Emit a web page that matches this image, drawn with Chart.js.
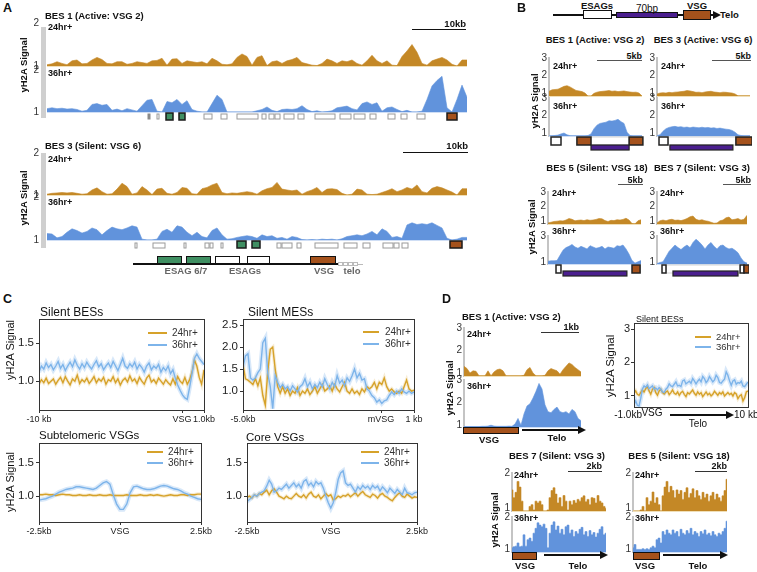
<!DOCTYPE html>
<html>
<head>
<meta charset="utf-8">
<script src="https://cdn.jsdelivr.net/npm/chart.js@4.4.1/dist/chart.umd.min.js"></script>
<style>
body { margin: 0; width: 757px; height: 572px; position: relative; background: #fff; overflow: hidden;
       font-family: "Liberation Sans", Arial, sans-serif; }
.tx { position: absolute; white-space: nowrap; line-height: 1; color: #111; }
.bx { position: absolute; box-sizing: border-box; }
.yt { position: absolute; white-space: nowrap; line-height: 1; color: #222; font-size: 11px; z-index: 5; }
</style>
</head>
<body>
<script>
// ---- Panel A: BES tracks, one value per 5px bin ----
const a1_24 = [1.03,1.05,1.1,1.06,1.03,1.12,1.14,1.05,1.06,1.14, 1.2,1.15,1.06,1.05,1.1,1.1,1.04,1.06,1.1,1.08,
  1.06,1.12,1.13,1.18,1.02,1.16,1.17,1.06,1.12,1.1, 1.08,1.1,1.05,1.18,1.12,1.04,1.03,1.05,1.2,1.28,
  1.22,1.02,1.2,1.24,1.01,1.1,1.12,1.06,1.12,1.15, 1.2,1.08,1.05,1.02,1.01,1.06,1.16,1.12,1.06,1.12,
  1.1,1.14,1.06,1.02,1.12,1.25,1.12,1.06,1.12,1.02, 1.01,1.22,1.35,1.5,1.32,1.06,1.02,1.12,1.16,1.2,
  1.14,1.04,1.0,1.14,1.14];
const a1_36 = [1.08,1.1,1.08,1.09,1.07,1.08,1.06,1.02,1.04,1.18, 1.2,1.16,1.18,1.04,1.07,1.03,1.08,1.05,1.02,1.15,
  1.28,1.3,1.02,1.0,1.25,1.22,1.3,1.18,1.27,1.06, 1.02,1.0,1.0,1.2,1.4,1.3,1.0,1.0,1.0,1.0,
  1.0,1.0,1.03,1.06,1.12,1.04,1.01,1.06,1.07,1.06, 1.08,1.15,1.06,1.01,1.03,1.0,1.01,1.03,1.1,1.12,
  1.14,1.08,1.05,1.2,1.24,1.18,1.22,1.02,1.1,1.12, 1.06,1.01,1.04,1.0,1.0,1.02,1.3,1.62,1.75,1.85,
  1.1,1.0,1.3,1.64,1.35];
const a1_genes = [[20.2,20.6,'k'],[22,22.4,'w'],[23.8,25.2,'g'],[26.4,27.6,'g'],[31.4,33,'w'],[34.8,36,'w'],
  [38,42.2,'w'],[43,43.8,'w'],[44.4,45.4,'w'],[45.6,46.6,'w'],[47.4,49.4,'w'],[50.2,51.4,'w'],[53.6,57.6,'w'],
  [58.6,60.8,'w'],[61.4,63.6,'w'],[64.6,65.8,'w'],[68.2,69.6,'w'],[70.8,72,'w'],[74,75.6,'w'],[80,82,'b']];

const a3_24 = [1.02,1.04,1.05,1.06,1.05,1.06,1.04,1.02,1.03,1.12, 1.17,1.08,1.02,1.03,1.14,1.28,1.2,1.02,1.05,1.2,
  1.12,1.01,1.14,1.16,1.04,1.02,1.06,1.18,1.16,1.03, 1.02,1.15,1.18,1.24,1.28,1.06,1.03,1.05,1.04,1.06,
  1.08,1.06,1.02,1.1,1.15,1.18,1.3,1.14,1.12,1.1, 1.12,1.02,1.08,1.12,1.18,1.06,1.14,1.15,1.13,1.04,
  1.0,1.02,1.14,1.12,1.02,1.01,1.02,1.06,1.1,1.15, 1.08,1.12,1.18,1.14,1.24,1.08,1.05,1.16,1.2,1.17,
  1.12,1.07,1.0,1.15,1.15];
const a3_36 = [1.15,1.14,1.05,1.08,1.18,1.26,1.22,1.16,1.2,1.28, 1.24,1.12,1.22,1.3,1.26,1.24,1.28,1.33,1.3,1.02,
  1.0,1.0,1.02,1.2,1.25,1.18,1.33,1.3,1.18,1.1, 1.18,1.08,1.05,1.22,1.28,1.12,1.02,1.03,1.06,1.08,
  1.1,1.08,1.04,1.12,1.08,1.1,1.04,1.06,1.02,1.08, 1.06,1.01,1.0,1.01,1.0,1.02,1.01,1.02,1.0,1.03,
  1.08,1.1,1.12,1.1,1.14,1.2,1.12,1.26,1.2,1.06, 1.08,1.04,1.35,1.4,1.36,1.38,1.36,1.4,1.34,1.28,
  1.04,1.0,1.02,1.06,1.06];
const a3_genes = [[17.6,18,'w'],[21.2,23.6,'w'],[27.4,27.8,'w'],[31.6,32.4,'w'],[32.6,33.2,'w'],[34.8,35.2,'w'],
  [38,39.8,'g'],[41,42.6,'g'],[46,46.8,'w'],[47,49,'w'],[50,50.8,'w'],[53.6,58.2,'w'],[59.4,62,'w'],
  [63.2,64.6,'w'],[67.2,69.2,'w'],[69.4,70.4,'w'],[71,72.2,'w'],[80.6,83,'b']];

// ---- Panel B ----
const b1_24 = [1.1,1.18,1.2,1.22,1.3,1.38,1.42,1.35,1.25,1.15, 1.12,1.08,1.0,0.83,0.83,0.98,1.05,1.08,1.1,1.12,
  1.14,1.1,1.12,1.08,1.1,1.12,1.08,1.06,1.04,1.05, 1.0,0.83];
const b1_36 = [0.84,0.85,0.86,0.88,0.95,1.0,0.9,0.85,0.84,0.84, 0.84,0.84,0.84,0.86,0.95,1.25,1.45,1.55,1.58,1.62,
  1.7,1.68,1.72,1.78,1.65,1.55,1.05,0.86,0.84,0.84, 0.84,0.84];
const b1_genes = [[14,26.7,'o'],[0.67,4,'w'],[9.3,14,'b'],[26.7,31.3,'b'],[14,26.7,'p']];
const b3_24 = [0.95,1.0,1.02,1.0,1.04,1.02,1.05,1.06,1.08,1.1, 1.14,1.12,1.08,1.04,1.05,1.02,1.06,1.08,1.1,1.06,
  1.04,1.02,1.05,1.04,1.02,1.0,0.95,0.84,0.84,0.84, 0.84,0.84];
const b3_36 = [0.85,0.9,1.1,1.25,1.32,1.36,1.38,1.34,1.36,1.32, 1.34,1.3,1.34,1.32,1.3,1.33,1.3,1.32,1.28,1.3,
  1.26,1.28,1.25,1.22,1.2,1.15,1.05,0.9,0.86,0.85, 0.85,0.85];
const b3_genes = [[3.67,26.3,'o'],[0.67,3.67,'w'],[26.3,31.7,'b'],[4.3,25.3,'p']];
const b5_24 = [0.9,0.95,1.0,1.02,1.05,1.04,1.1,1.2,1.15,1.05, 1.08,1.1,1.06,1.12,1.08,1.1,1.14,1.2,1.18,1.06,
  1.0,1.08,1.06,1.12,1.1,1.14,1.22,1.1,0.86,0.84, 1.05,1.12];
const b5_36 = [1.05,1.08,1.08,1.1,1.5,1.9,2.1,2.2,2.35,2.15, 2.05,2.2,2.1,2.0,2.25,2.15,2.05,2.1,2.2,2.0,
  2.15,2.1,2.05,2.25,2.2,2.3,2.0,1.6,1.1,0.9, 1.0,1.1];
const b5_genes = [[2.67,4.33,'w'],[28,30.7,'b'],[5,26.3,'p']];
const b7_24 = [0.9,1.05,1.1,1.05,1.12,1.15,1.08,1.1,1.06,1.12, 1.2,1.32,1.37,1.15,1.08,1.12,1.05,1.02,0.95,0.88,
  0.9,1.05,1.1,1.25,1.3,1.12,1.15,1.2,1.1,1.15, 1.42];
const b7_36 = [0.86,0.95,1.0,1.4,1.8,2.05,2.3,2.1,1.95,2.15, 2.3,2.1,2.5,2.75,2.55,2.3,2.0,2.3,2.5,2.2,
  2.0,2.25,2.3,2.1,2.0,2.05,1.9,1.7,1.3,1.0, 0.9];
const b7_genes = [[3,27.7,'o'],[1.67,3,'w'],[27.7,29,'w'],[29,30.7,'b'],[5.33,27,'p']];

// ---- Panel C: metaplots ----
const cBes_24 = [0.96,1.02,0.98,1.04,0.97,1.0,1.03,0.96,1.01,1.05, 0.98,1.06,1.0,0.95,1.03,1.0,1.08,0.97,1.02,0.99,
  1.04,0.97,1.01,1.06,0.98,1.03,1.0,1.05,0.96,1.02, 1.0,1.06,0.98,1.03,0.95,1.01,1.04,0.99,1.07,1.0,
  1.03,0.97,1.05,1.0,0.96,1.04,1.08,0.99,1.02,0.97, 1.04,1.0,0.96,1.02,0.98,0.95,1.03,0.96,1.06,1.0,
  0.97,1.05,0.96,1.02,1.12,1.28,1.2,1.05,0.96,1.15];
const cBes_36 = [1.12,1.2,1.16,1.24,1.18,1.22,1.15,1.2,1.26,1.17, 1.22,1.14,1.2,1.25,1.19,1.28,1.21,1.16,1.23,1.18,
  1.25,1.2,1.16,1.22,1.27,1.19,1.23,1.15,1.2,1.24, 1.18,1.26,1.2,1.14,1.22,1.3,1.2,1.17,1.23,1.19,
  1.25,1.16,1.22,1.18,1.12,1.2,1.24,1.15,1.2,1.17, 1.22,1.12,1.18,1.14,1.2,1.1,1.15,1.04,0.95,0.88,
  0.82,0.78,0.76,0.92,1.1,1.3,1.36,1.3,1.26,1.22];
const cBes_ticks = [0, 59.8, 69], cBes_labels = ['-10 kb', 'VSG', '1.0kb'];

const cMes_24 = [1.6,1.28,1.25,1.2,1.15,1.28,1.12,1.3,0.9,0.68, 1.45,1.95,2.0,1.5,1.1,0.95,1.1,0.95,1.05,0.9,
  1.0,0.95,1.08,0.9,1.0,0.95,1.05,0.92,1.0,1.1, 0.95,1.05,1.15,1.0,1.05,1.12,1.0,1.15,1.05,0.98,
  1.1,1.2,1.0,0.95,1.05,0.95,1.0,0.92,1.05,0.98, 1.1,1.05,1.1,1.2,1.05,1.2,1.15,1.3,1.1,1.0,
  1.05,0.98,0.95,1.0,0.95,1.1,1.25,1.05,1.0,1.02];
const cMes_36 = [1.55,1.8,1.85,1.3,1.25,1.3,1.42,1.5,2.1,2.2, 1.4,1.1,0.6,1.35,1.2,1.08,1.15,1.05,1.1,1.0,
  1.12,1.05,0.98,1.1,1.15,1.28,1.1,1.2,1.05,1.15, 1.08,1.2,1.1,1.28,1.15,1.05,1.2,1.1,1.35,1.18,
  1.25,1.12,1.3,1.22,1.35,1.5,1.3,1.4,1.25,1.28, 1.05,1.0,0.9,0.85,0.75,0.8,0.72,0.78,0.8,0.9,
  0.98,0.92,1.0,0.95,1.05,0.98,0.95,1.0,0.95,0.98];
const cMes_ticks = [0, 55.7, 69], cMes_labels = ['-5.0kb', 'mVSG', '1 kb'];

const cSub_24 = [1.02,1.02,1.03,1.02,1.02,1.01,1.02,1.03,1.02,1.02, 1.01,1.01,1.02,1.01,1.01,1.02,1.01,1.01,1.02,1.01,
  1.01,1.02,1.01,1.01,1.01,1.01,1.02,1.01,1.01,1.01, 1.02,1.01,1.01,1.02,1.01,1.02,1.01,1.0,1.01,1.02,
  1.01,1.01,1.02,1.02,1.01,1.02,1.02,1.03,1.03];
const cSub_36 = [0.94,0.95,0.96,0.98,1.0,1.03,1.06,1.08,1.1,1.11, 1.12,1.14,1.14,1.13,1.12,1.11,1.1,1.12,1.16,1.2,
  1.22,1.18,1.02,0.88,0.8,0.8,0.88,1.05,1.14,1.15, 1.13,1.11,1.1,1.1,1.11,1.13,1.15,1.16,1.15,1.13,
  1.11,1.1,1.08,1.05,1.03,1.0,0.98,0.96,0.95];
const cSub_ticks = [0, 24, 48], cSub_labels = ['-2.5kb', 'VSG', '2.5kb'];

const cCore_24 = [0.98,1.0,0.97,1.02,1.0,1.04,1.02,1.06,1.09,1.02, 1.08,1.11,1.06,1.0,0.98,0.96,1.0,0.97,0.96,1.0,
  1.04,1.0,0.98,1.02,0.97,1.03,1.06,1.0,0.98,1.02, 0.96,1.0,1.04,1.0,1.02,0.94,0.96,1.0,0.98,1.01,
  1.0,1.03,0.99,1.02,1.05,1.0,1.04,1.07,1.02,1.0, 0.98,1.03,1.01,0.97,1.02,1.04,1.0,0.98,0.95,0.93,
  0.98,1.02,1.05,1.0,0.98,1.03,1.0,0.97,0.99,0.98];
const cCore_36 = [0.92,0.95,0.98,1.02,1.0,1.04,1.06,1.08,1.15,1.24, 1.18,1.06,1.08,1.12,1.1,1.14,1.18,1.12,1.16,1.2,
  1.14,1.18,1.12,1.22,1.25,1.16,1.2,1.14,1.22,1.18, 1.2,1.12,1.0,0.9,0.82,0.9,1.05,1.25,1.35,1.38,
  1.2,1.16,1.18,1.12,1.06,1.14,1.1,1.16,1.12,1.15, 1.1,1.16,1.12,1.15,1.08,1.14,1.1,1.05,1.12,1.08,
  1.04,1.1,1.06,1.02,1.12,1.05,1.04,1.02,1.05,1.06];
const cCore_ticks = [0, 34.1, 69], cCore_labels = ['-2.5kb', 'VSG', '2.5kb'];

// ---- Panel D ----
const d1_24 = [1.3,1.2,1.0,1.1,1.08,0.88,0.88,0.88,1.1,0.88, 1.05,1.15,1.18,1.1,0.88,0.88,0.88,0.88,0.88,0.88,
  0.9,1.15,1.25,1.0,0.88,0.88,0.88,0.9,1.1,1.2, 1.15,1.1,0.95,1.15,1.3,1.45,1.38,1.25,1.15,1.05];
const d1_36 = [0.94,0.94,0.94,0.94,0.94,0.94,0.95,0.95,0.96,1.0, 0.96,0.95,0.95,0.95,0.95,0.96,0.95,1.05,1.3,1.0,
  1.5,1.85,1.95,2.2,2.5,2.85,2.6,1.9,1.6,1.55, 1.7,1.8,1.6,1.55,1.6,1.5,1.7,1.6,1.3,1.2];
const dBes_24 = [1.08,1.15,1.05,1.02,1.1,1.18,1.12,1.22,1.28,1.15, 1.05,1.2,1.25,1.1,1.02,1.15,1.2,1.1,1.06,1.12,
  1.15,1.04,1.1,1.18,1.08,1.05,1.12,1.02,1.1,1.14, 1.05,0.98,1.1,1.06,1.12,1.18,1.08,1.02,1.12,1.05,
  1.1,0.98,1.05,1.12,1.03,1.08,1.0,1.05,1.14,1.08, 1.02,1.1,1.06,1.12,1.0,1.05,1.1,1.04,1.08,1.0,
  1.1,1.06,0.92,1.0,1.04,0.85,0.95,1.12,1.15];
const dBes_36 = [0.73,0.85,0.72,0.7,0.92,1.2,1.3,1.26,1.33,1.22, 1.26,1.3,1.2,1.24,1.18,1.25,1.2,1.12,1.1,1.2,
  1.25,1.36,1.3,1.28,1.35,1.42,1.3,1.32,1.28,1.45, 1.48,1.36,1.4,1.44,1.38,1.52,1.45,1.36,1.44,1.5,
  1.42,1.58,1.52,1.4,1.46,1.58,1.5,1.42,1.48,1.62, 1.55,1.4,1.38,1.45,1.5,1.72,1.62,1.45,1.32,1.45,
  1.48,1.35,1.4,1.38,1.44,1.3,1.28,1.35,1.42];
const dBes_yticks = [1, 2, 3], dBes_ylabels = ['1', '2', '3'];
const d7_24 = [1.52,1.3,1.45,1.76,1.6,1.2,0.92,0.92,0.92,1.05, 1.1,0.95,1.2,1.15,1.2,1.1,0.92,0.92,0.95,1.3,
  1.5,1.58,1.4,1.15,1.3,1.05,1.36,1.2,0.95,1.2, 1.1,1.22,1.15,1.25,1.2,1.3,1.35,1.18,1.25,1.1,
  1.3,1.28,1.15,1.36,1.2,1.15,1.05,1.0];
const d7_36 = [1.05,1.08,1.1,1.2,1.08,1.1,1.45,1.1,1.3,1.35, 1.25,1.5,1.65,1.82,1.75,1.7,1.78,1.65,1.05,1.5,
  1.75,1.85,1.6,1.72,1.5,1.62,1.45,1.7,1.75,1.5, 1.6,1.4,1.55,1.48,1.62,1.68,1.45,1.55,1.4,1.58,
  1.45,1.52,1.38,1.5,1.62,1.7,1.45,1.5];
const d5_24 = [0.92,0.92,0.92,0.92,0.95,1.05,0.92,1.3,1.1,1.2, 1.46,1.15,1.3,1.1,0.92,1.35,1.6,1.76,1.45,1.62,
  1.5,1.3,1.52,1.4,1.5,1.25,1.45,1.58,1.3,1.42, 1.55,1.3,1.5,1.35,1.25,1.45,1.3,1.4,1.2,1.35,
  1.45,1.25,1.4,1.3,1.2,1.35,1.5,1.82];
const d5_36 = [1.05,1.15,1.0,1.0,1.0,1.02,1.0,1.02,1.0,1.05, 1.1,1.05,1.3,1.35,1.2,1.55,1.45,1.6,1.5,1.45,
  1.6,1.5,1.55,1.4,1.62,1.5,1.45,1.58,1.5,1.65, 1.45,1.55,1.5,1.4,1.55,1.48,1.6,1.45,1.5,1.42,
  1.55,1.45,1.4,1.5,1.45,1.55,1.65,1.87];

// ---- styles ----
const FONT = '"Liberation Sans", Arial, sans-serif';
const ORANGE = '#c48826', BLUE = '#6193dc';
const GOLD = '#d6a22a', LBLUE = '#7db4ea';
const OBASE = '#f0dfb8', BBASE = '#cfdef5';
Chart.defaults.font.family = FONT;

const geneA = {
  w: { dy: 2, h: 5, fill: '#fff', stroke: '#9a9a9a', lw: 1 },
  k: { dy: 2, h: 5, fill: '#8a8a8a', stroke: '#8a8a8a', lw: 1 },
  g: { dy: 1, h: 7, fill: '#3f8f62', stroke: '#1a1a1a', lw: 1.5 },
  b: { dy: 1, h: 7, fill: '#a5521c', stroke: '#1a1a1a', lw: 1.5 }
};
const geneA2 = Object.assign({}, geneA, { w: { dy: 3, h: 5, fill: '#fff', stroke: '#9a9a9a', lw: 1 } });
const geneB = {
  o: { dy: 1, h: 8, fill: null, stroke: '#d4d4d4', lw: 1 },
  w: { dy: 1, h: 8, fill: '#fff', stroke: '#222', lw: 1.5 },
  b: { dy: 1, h: 8, fill: '#a5521c', stroke: '#222', lw: 1.5 },
  p: { dy: 9, h: 5, fill: '#4b1f8f', stroke: '#222', lw: 1.2 }
};
const geneB2 = Object.assign({}, geneB, { p: { dy: 7, h: 5, fill: '#4b1f8f', stroke: '#222', lw: 1.2 } });

const deco = {
  id: 'deco',
  beforeDatasetsDraw(chart, _a, o) {
    if (!o.base) return;
    const { ctx, chartArea: a } = chart;
    ctx.save();
    ctx.strokeStyle = o.base; ctx.lineWidth = 2;
    ctx.beginPath(); ctx.moveTo(a.left, a.bottom); ctx.lineTo(a.right, a.bottom); ctx.stroke();
    ctx.restore();
  },
  afterDraw(chart, _a, o) {
    const { ctx, chartArea: a, scales: { x } } = chart;
    ctx.save();
    if (o.frame) {
      ctx.strokeStyle = '#333'; ctx.lineWidth = 1;
      ctx.strokeRect(Math.round(a.left) + 0.5, Math.round(a.top) + 0.5, Math.round(a.right - a.left), Math.round(a.bottom - a.top));
    }
    (o.genes || []).forEach(g => {
      const st = o.gstyle[g[2]];
      const x1 = x.getPixelForValue(g[0]), x2 = x.getPixelForValue(g[1]), yy = a.bottom + st.dy;
      if (st.fill) { ctx.fillStyle = st.fill; ctx.fillRect(x1, yy, x2 - x1, st.h); }
      ctx.strokeStyle = st.stroke; ctx.lineWidth = st.lw;
      ctx.strokeRect(x1, yy, x2 - x1, st.h);
    });
    ctx.restore();
  }
};

function canvasAt(x, y, w, h) {
  const c = document.createElement('canvas');
  c.width = w; c.height = h;
  c.style.cssText = `position:absolute;left:${x}px;top:${y}px;width:${w}px;height:${h}px`;
  document.body.appendChild(c);
  return c;
}

// filled signal track; x = left edge of the track, step = px per bin
function track(o) {
  const tp = o.tickPad || 3;
  const padL = 16, padR = 2, padT = 9 + tp, padB = Math.max(o.padB || 0, 9 + tp);
  const w = o.step * (o.data.length - 1);
  const cv = canvasAt(o.x - padL, o.y - padT, w + padL + padR, o.h + padT + padB);
  return new Chart(cv, {
    type: 'line',
    data: { datasets: [{
      data: o.data.map((v, i) => ({ x: i, y: v })),
      fill: 'start', backgroundColor: o.color, borderColor: o.color, borderWidth: 0.6,
      pointRadius: 0, tension: 0, stepped: o.stepped ? 'middle' : false
    }] },
    options: {
      responsive: false, animation: false, events: [],
      layout: { padding: { top: padT, bottom: padB, right: padR, left: 0 } },
      plugins: { legend: { display: false }, tooltip: { enabled: false },
        deco: { base: o.base, genes: o.genes, gstyle: o.gstyle } },
      scales: {
        x: { type: 'linear', display: false, min: 0, max: o.data.length - 1 },
        y: {
          min: o.lo, max: o.hi,
          afterFit: s => { s.width = padL; },
          afterBuildTicks: s => { s.ticks = o.ticks.map(v => ({ value: v })); },
          grid: { display: false, drawTicks: false },
          border: o.axis === 'line' ? { display: true, color: '#c4c4c4', width: 2 } : { display: false },
          ticks: { color: '#333', font: { size: o.fs || 10 }, padding: tp }
        }
      }
    },
    plugins: [deco]
  });
}

// framed line profile (panels C, D)
function profile(o) {
  const padL = 34, padR = 22, padT = 10, padB = 16;
  const left = o.x - padL, top = o.y - padT;
  const cv = canvasAt(left, top, o.w + padL + padR, o.h + padT + padB);
  const line = (a, c, w) => ({ data: a.map((v, i) => ({ x: i, y: v })), borderColor: c, borderWidth: w,
    pointRadius: 0, fill: false, tension: 0 });
  const chart = new Chart(cv, {
    type: 'line',
    data: { datasets: [line(o.blue, LBLUE, 1.4), line(o.gold, GOLD, 1.4),
      line(o.blue, 'rgba(125,180,234,0.3)', 4.5), line(o.gold, 'rgba(214,162,42,0.2)', 3.5)] },
    options: {
      responsive: false, animation: false, events: [],
      layout: { padding: { top: padT, right: padR, bottom: 0, left: 0 } },
      plugins: { legend: { display: false }, tooltip: { enabled: false }, deco: { frame: true } },
      scales: {
        x: {
          type: 'linear', min: 0, max: o.blue.length - 1,
          afterFit: s => { s.height = padB; },
          afterBuildTicks: s => { s.ticks = o.xt.map(v => ({ value: v })); },
          ticks: { autoSkip: false, maxRotation: 0, callback: (v, i) => o.xl[i],
            font: { size: 9 }, color: '#222', padding: 1 },
          grid: { drawOnChartArea: false, tickLength: o.xtl === undefined ? 3 : o.xtl, color: '#333' },
          border: { color: '#333' }
        },
        y: {
          min: o.lo, max: o.hi,
          afterFit: s => { s.width = padL; },
          afterBuildTicks: s => { s.ticks = o.yt.map(v => ({ value: v })); },
          ticks: { display: !o.htmlY, autoSkip: false, callback: (v, i) => o.yl[i], font: { size: o.ys || 11.5 }, color: '#222', padding: 2 },
          grid: { drawOnChartArea: false, tickLength: 3, color: '#333' }, border: { color: '#333' }
        }
      }
    },
    plugins: [deco]
  });
  chart.pageLeft = left; chart.pageTop = top;
  return chart;
}

function txt(s, x, y, o = {}) {
  const d = document.createElement('div');
  d.className = 'tx';
  d.textContent = s;
  d.style.left = x + 'px'; d.style.top = y + 'px';
  d.style.fontSize = (o.size || 9.5) + 'px';
  d.style.fontWeight = o.bold === false ? 'normal' : 'bold';
  if (o.color) d.style.color = o.color;
  const ax = o.align === 'c' ? '-50%' : o.align === 'r' ? '-100%' : '0';
  d.style.transform = o.rot ? 'translate(-50%,-50%) rotate(-90deg)' : `translate(${ax},-50%)`;
  document.body.appendChild(d);
}
function rect(x, y, w, h, fill, stroke, bw) {
  const d = document.createElement('div');
  d.className = 'bx';
  d.style.cssText += `left:${x}px;top:${y}px;width:${w}px;height:${h}px;background:${fill || 'transparent'};` +
    (stroke ? `border:${bw || 1}px solid ${stroke};` : '');
  document.body.appendChild(d);
}
function hline(x1, x2, y, c, w) { rect(x1, y - (w || 1) / 2, x2 - x1, w || 1, c || '#111'); }
function arrow(x1, x2, y, w) {
  hline(x1, x2 - 6, y, '#111', w || 1.5);
  const d = document.createElement('div');
  d.style.cssText = `position:absolute;left:${x2 - 7}px;top:${y - 4}px;width:0;height:0;` +
    'border-left:8px solid #111;border-top:4px solid transparent;border-bottom:4px solid transparent;';
  document.body.appendChild(d);
}
function legend(x1, x2, y1, y2, tx, size) {
  hline(x1, x2, y1, GOLD, 2); hline(x1, x2, y2, LBLUE, 2);
  txt('24hr+', tx, y1, { bold: false, size: size || 10, color: '#333' });
  txt('36hr+', tx, y2, { bold: false, size: size || 10, color: '#333' });
}

// ================= Panel A =================
rect(41, 27, 5, 91, '#cfcfcf');
rect(41, 153, 5, 95, '#cfcfcf');
track({ x: 47, y: 23, h: 43, step: 5, lo: 1, hi: 2, ticks: [1, 2], data: a1_24, color: ORANGE, base: OBASE, tickPad: 8 });
track({ x: 47, y: 70, h: 42, step: 5, lo: 1, hi: 2, ticks: [1, 2], data: a1_36, color: BLUE, base: BBASE, tickPad: 8,
  padB: 12, genes: a1_genes, gstyle: geneA });
track({ x: 47, y: 153, h: 42, step: 5, lo: 1, hi: 2, ticks: [1, 2], data: a3_24, color: ORANGE, base: OBASE, tickPad: 8 });
track({ x: 47, y: 197, h: 43, step: 5, lo: 1, hi: 2, ticks: [1, 2], data: a3_36, color: BLUE, base: BBASE, tickPad: 8,
  padB: 12, genes: a3_genes, gstyle: geneA2 });

txt('A', 3, 8, { size: 12.5 });
txt('BES 1 (Active: VSG 2)', 45, 16);
txt('24hr+', 48, 27, { size: 9 });
txt('36hr+', 48, 73, { size: 9 });
hline(412, 466, 29, '#111', 1);
txt('10kb', 466, 24, { align: 'r' });
txt('yH2A Signal', 24, 65, { rot: true, size: 9.5 });

txt('BES 3 (Silent: VSG 6)', 45, 146);
txt('24hr+', 48, 159, { size: 9 });
txt('36hr+', 48, 202, { size: 9 });
hline(403, 468, 152, '#111', 1);
txt('10kb', 468, 146, { align: 'r' });
txt('yH2A Signal', 24, 198, { rot: true, size: 9.5 });

// BES schematic
hline(133, 338, 264, '#111', 2.5);
rect(157, 256, 25, 8, '#3f8f62', '#111', 1.5);
rect(186, 256, 25, 8, '#3f8f62', '#111', 1.5);
rect(215, 256, 25, 8, '#fff', '#111', 1.5);
rect(247, 256, 23, 8, '#fff', '#111', 1.5);
rect(310, 256, 26, 8, '#a5521c', '#111', 1.5);
[338, 343, 348, 353].forEach(x => rect(x, 262, 5, 4, '#fff', '#bbb', 1));
rect(358, 263.5, 5, 1, '#bbb');
txt('ESAG 6/7', 186, 271, { align: 'c', size: 9.5, color: '#666' });
txt('ESAGs', 245, 271, { align: 'c', size: 9.5, color: '#666' });
txt('VSG', 324, 271, { align: 'c', size: 9.5, color: '#666' });
txt('telo', 352, 271, { align: 'c', size: 9.5, color: '#666' });

// ================= Panel B =================
txt('B', 517, 8, { size: 12.5 });
hline(553, 713, 14.5, '#111', 2);
arrow(705, 720, 14.5, 2);
rect(583, 10, 29, 9, '#fff', '#111', 1.5);
rect(616, 12, 62, 6, '#4b1f8f', '#111', 1.2);
rect(683, 10, 28, 10, '#a5521c', '#111', 1.5);
txt('ESAGs', 597, 6, { align: 'c' });
txt('70bp', 647, 9, { align: 'c', bold: false, size: 10 });
txt('VSG', 697, 6, { align: 'c' });
txt('Telo', 720, 15);

txt('BES 1 (Active: VSG 2)', 595, 40, { align: 'c' });
txt('BES 3 (Active: VSG 6)', 703, 40, { align: 'c' });
hline(597, 642, 60, '#555', 1); txt('5kb', 642, 56, { align: 'r', size: 9 });
hline(712, 751, 60, '#555', 1); txt('5kb', 751, 56, { align: 'r', size: 9 });
track({ x: 549, y: 58, h: 38, step: 3, lo: 0.83, hi: 3.0, ticks: [1, 2, 3], data: b1_24, color: ORANGE, base: OBASE, axis: 'line', tickPad: 2 });
track({ x: 549, y: 98, h: 38, step: 3, lo: 0.83, hi: 3.0, ticks: [1, 2, 3], data: b1_36, color: BLUE, base: BBASE, axis: 'line', tickPad: 2,
  padB: 16, genes: b1_genes, gstyle: geneB });
track({ x: 657, y: 58, h: 38, step: 3, lo: 0.83, hi: 3.0, ticks: [1, 2, 3], data: b3_24, color: ORANGE, base: OBASE, axis: 'line', tickPad: 2 });
track({ x: 657, y: 98, h: 38, step: 3, lo: 0.83, hi: 3.0, ticks: [1, 2, 3], data: b3_36, color: BLUE, base: BBASE, axis: 'line', tickPad: 2,
  padB: 16, genes: b3_genes, gstyle: geneB });
txt('24hr+', 553, 66, { size: 9 }); txt('36hr+', 553, 106, { size: 9 });
txt('24hr+', 661, 66, { size: 9 }); txt('36hr+', 661, 106, { size: 9 });
txt('yH2A Signal', 535, 101, { rot: true, size: 9.5 });

txt('BES 5 (Silent: VSG 18)', 597, 168, { align: 'c' });
txt('BES 7 (Silent: VSG 3)', 702, 168, { align: 'c' });
hline(618, 643, 184, '#555', 1); txt('5kb', 643, 180, { align: 'r', size: 9 });
hline(723, 751, 184, '#555', 1); txt('5kb', 751, 180, { align: 'r', size: 9 });
track({ x: 548, y: 192, h: 32, step: 3, lo: 0.83, hi: 3.0, ticks: [1, 2, 3], data: b5_24, color: ORANGE, base: OBASE, axis: 'line', tickPad: 2 });
track({ x: 548, y: 236, h: 28, step: 3, lo: 0.83, hi: 3.0, ticks: [1, 2, 3], data: b5_36, color: BLUE, base: BBASE, axis: 'line', tickPad: 2,
  padB: 14, genes: b5_genes, gstyle: geneB2 });
track({ x: 657, y: 192, h: 32, step: 3, lo: 0.83, hi: 3.0, ticks: [1, 2, 3], data: b7_24, color: ORANGE, base: OBASE, axis: 'line', tickPad: 2 });
track({ x: 657, y: 236, h: 28, step: 3, lo: 0.83, hi: 3.0, ticks: [1, 2, 3], data: b7_36, color: BLUE, base: BBASE, axis: 'line', tickPad: 2,
  padB: 14, genes: b7_genes, gstyle: geneB2 });
txt('24hr+', 552, 193, { size: 9 }); txt('36hr+', 552, 231, { size: 9 });
txt('24hr+', 660, 193, { size: 9 }); txt('36hr+', 660, 231, { size: 9 });
txt('yH2A Signal', 532, 227, { rot: true, size: 9.5 });

// ================= Panel C =================
txt('C', 3, 299, { size: 12.5 });
const yl1 = ['1.0', '1.5'];
profile({ x: 39, y: 319, w: 165, h: 91, lo: 0.62, hi: 1.82, yt: [1.0, 1.5], yl: yl1,
  xt: cBes_ticks, xl: cBes_labels, gold: cBes_24, blue: cBes_36 });
profile({ x: 243, y: 319, w: 171, h: 91, lo: 0.57, hi: 2.64, yt: [1.0, 1.5, 2.0, 2.5], yl: ['1.0', '1.5', '2.0', '2.5'],
  xt: cMes_ticks, xl: cMes_labels, gold: cMes_24, blue: cMes_36 });
profile({ x: 39, y: 443, w: 162, h: 79, lo: 0.61, hi: 1.80, yt: [1.0, 1.5], yl: yl1,
  xt: cSub_ticks, xl: cSub_labels, gold: cSub_24, blue: cSub_36 });
profile({ x: 247, y: 443, w: 170, h: 79, lo: 0.61, hi: 1.80, yt: [1.0, 1.5], yl: yl1,
  xt: cCore_ticks, xl: cCore_labels, gold: cCore_24, blue: cCore_36 });
txt('Silent BESs', 40, 312, { bold: false, size: 12 });
txt('Silent MESs', 248, 312, { bold: false, size: 12 });
txt('Subtelomeric VSGs', 39, 436, { bold: false, size: 11.5 });
txt('Core VSGs', 246, 438, { bold: false, size: 11.5 });
legend(148, 167, 333, 345, 172);
legend(363, 379, 332, 344, 385);
legend(147, 163, 452, 463, 168);
legend(361, 379, 452, 463, 384);
txt('yH2A Signal', 10, 350, { rot: true, bold: false, size: 11 });
txt('yH2A Signal', 10, 482, { rot: true, bold: false, size: 11 });

// ================= Panel D =================
txt('D', 442, 299, { size: 12.5 });
txt('BES 1 (Active: VSG 2)', 462, 317);
track({ x: 464, y: 328, h: 48, step: 3, lo: 0.87, hi: 3.0, ticks: [1, 2, 3], data: d1_24, color: ORANGE, base: OBASE, axis: 'line', tickPad: 2 });
track({ x: 464, y: 380, h: 47, step: 3, lo: 0.92, hi: 3.0, ticks: [1, 2, 3], data: d1_36, color: BLUE, base: BBASE, axis: 'line', tickPad: 2 });
txt('24hr+', 467, 334, { size: 9 }); txt('36hr+', 467, 386, { size: 9 });
hline(541, 579, 332, '#333', 1); txt('1kb', 579, 327, { align: 'r', size: 9 });
txt('yH2A Signal', 450, 388, { rot: true, size: 9.5 });
rect(463, 427, 56, 7, '#a5521c', '#111', 1.5);
arrow(522, 585, 430, 1.5);
txt('VSG', 489, 440, { align: 'c' });
txt('Telo', 557, 438, { align: 'c' });

const dChart = profile({ x: 634, y: 323, w: 114, h: 84, lo: 0.67, hi: 3.18, yt: dBes_yticks, yl: dBes_ylabels,
  ys: 10.5, htmlY: true, xt: [0], xl: [''], xtl: 0, gold: dBes_24, blue: dBes_36 });
txt('Silent BESs', 636, 319, { bold: false, size: 9 });
legend(695, 711, 337, 347, 716, 9.5);
txt('yH2A Signal', 611, 366, { rot: true, bold: false, size: 11.5 });
txt('-1.0kb', 642, 415, { align: 'r', bold: false, size: 10 });
txt('VSG', 652, 413, { align: 'c', bold: false, size: 10 });
arrow(670, 733, 415, 1.5);
txt('10 kb', 734, 415, { bold: false, size: 10 });
txt('Telo', 698, 424, { align: 'c', bold: false, size: 10 });

txt('BES 7 (Silent: VSG 3)', 557, 456, { align: 'c' });
txt('BES 5 (Silent: VSG 18)', 679, 456, { align: 'c' });
hline(568, 602, 471, '#333', 1); txt('2kb', 602, 466, { align: 'r', size: 9 });
hline(695, 727, 471, '#333', 1); txt('2kb', 727, 466, { align: 'r', size: 9 });
track({ x: 512, y: 473, h: 38, step: 2, lo: 0.92, hi: 2.0, ticks: [1, 2], data: d7_24, color: ORANGE, base: OBASE, axis: 'line', tickPad: 2, stepped: true });
track({ x: 512, y: 517, h: 35, step: 2, lo: 0.92, hi: 2.0, ticks: [1, 2], data: d7_36, color: BLUE, base: BBASE, axis: 'line', tickPad: 2, stepped: true });
track({ x: 633, y: 473, h: 38, step: 2, lo: 0.92, hi: 2.0, ticks: [1, 2], data: d5_24, color: ORANGE, base: OBASE, axis: 'line', tickPad: 2, stepped: true });
track({ x: 633, y: 517, h: 35, step: 2, lo: 0.92, hi: 2.0, ticks: [1, 2], data: d5_36, color: BLUE, base: BBASE, axis: 'line', tickPad: 2, stepped: true });
txt('24hr+', 514, 475, { size: 9 }); txt('36hr+', 514, 518, { size: 9 });
txt('24hr+', 635, 475, { size: 9 }); txt('36hr+', 635, 518, { size: 9 });
txt('yH2A Signal', 495, 520, { rot: true, size: 9.5 });
rect(512, 552, 25, 8, '#a5521c', '#111', 1.5);
arrow(544, 607, 555, 1.5);
txt('VSG', 525, 566, { align: 'c' });
txt('Telo', 578, 566, { align: 'c' });
rect(633, 552, 27, 8, '#a5521c', '#111', 1.5);
arrow(663, 727, 555, 1.5);
txt('VSG', 645, 566, { align: 'c' });
txt('Telo', 698, 566, { align: 'c' });

// y tick labels of the D profile, positioned from its y scale, on top of everything
const dScaleY = dChart.scales.y;
const dAxisRight = dChart.pageLeft + dChart.chartArea.left - 4;
dBes_yticks.forEach((v, i) => {
  const d = document.createElement('div');
  d.className = 'yt';
  d.textContent = dBes_ylabels[i];
  const py = Math.round(dChart.pageTop + dScaleY.getPixelForValue(v));
  d.style.left = (dAxisRight - 8) + 'px';
  d.style.top = (py - 6) + 'px';
  d.style.width = '8px';
  d.style.textAlign = 'right';
  document.body.appendChild(d);
});
</script>
</body>
</html>
